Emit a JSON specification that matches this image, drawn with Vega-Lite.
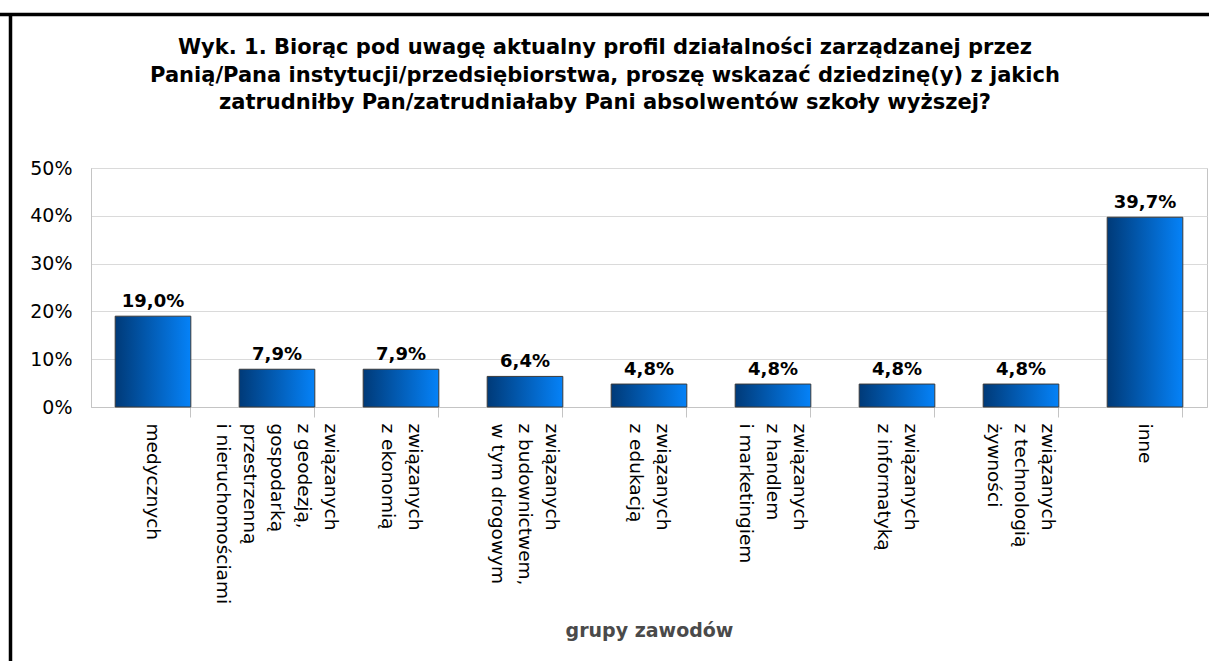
{
  "$schema": "https://vega.github.io/schema/vega-lite/v6.json",
  "width": 1116,
  "height": 239,
  "autosize": {"type": "none"},
  "padding": {"left": 91, "top": 168, "right": 2, "bottom": 254},
  "background": "white",
  "config": {
    "locale": {"number": {"decimal": ",", "thousands": " ", "grouping": [3], "currency": ["", " zł"]}},
    "view": {"stroke": "#c4c4c4", "strokeWidth": 1},
    "font": "DejaVu Sans"
  },
  "title": {
    "text": ["Wyk. 1. Biorąc pod uwagę aktualny profil działalności zarządzanej przez", "Panią/Pana instytucji/przedsiębiorstwa, proszę wskazać dziedzinę(y) z jakich", "zatrudniłby Pan/zatrudniałaby Pani absolwentów szkoły wyższej?"],
    "anchor": "middle",
    "frame": "group",
    "dx": -44,
    "offset": -102,
    "font": "DejaVu Sans",
    "fontSize": 21,
    "fontWeight": "bold",
    "color": "#000000",
    "lineHeight": 27.5
  },
  "data": {
    "values": [
      {"grupa": "medycznych", "udzial": 0.19},
      {"grupa": "związanych|z geodezją,|gospodarką|przestrzenną|i nieruchomościami", "udzial": 0.079},
      {"grupa": "związanych|z ekonomią", "udzial": 0.079},
      {"grupa": "związanych|z budownictwem,|w tym drogowym", "udzial": 0.064},
      {"grupa": "związanych|z edukacją", "udzial": 0.048},
      {"grupa": "związanych|z handlem|i marketingiem", "udzial": 0.048},
      {"grupa": "związanych|z informatyką", "udzial": 0.048},
      {"grupa": "związanych|z technologią|żywności", "udzial": 0.048},
      {"grupa": "inne", "udzial": 0.397}
    ]
  },
  "resolve": {"axis": {"x": "independent"}},
  "layer": [
    {
      "mark": {
        "type": "bar",
        "stroke": "#3a3a3a",
        "strokeWidth": 1,
        "color": {
          "gradient": "linear",
          "x1": 0, "x2": 1, "y1": 0, "y2": 0,
          "stops": [
            {"offset": 0, "color": "#003a78"},
            {"offset": 1, "color": "#0582f8"}
          ]
        }
      },
      "encoding": {
        "x": {
          "field": "grupa",
          "type": "nominal",
          "sort": null,
          "scale": {"paddingInner": 0.39, "paddingOuter": 0.195},
          "axis": {
            "orient": "bottom",
            "labels": false,
            "title": null,
            "bandPosition": 1,
            "ticks": true,
            "tickSize": 10,
            "tickColor": "#c4c4c4",
            "domainColor": "#c4c4c4"
          }
        },
        "y": {
          "field": "udzial",
          "type": "quantitative",
          "scale": {"domain": [0, 0.5]},
          "axis": {
            "title": null,
            "format": ".0%",
            "values": [0, 0.1, 0.2, 0.3, 0.4, 0.5],
            "ticks": false,
            "labelPadding": 19,
            "labelFont": "DejaVu Sans",
            "labelFontSize": 19,
            "labelColor": "#000000",
            "gridColor": "#dadada",
            "domainColor": "#c4c4c4"
          }
        }
      }
    },
    {
      "mark": {"type": "text", "baseline": "alphabetic", "dy": -9, "font": "DejaVu Sans", "fontSize": 18, "fontWeight": "bold", "color": "#000000"},
      "encoding": {
        "x": {
          "field": "grupa",
          "type": "nominal",
          "sort": null,
          "axis": {
            "orient": "bottom",
            "labelAngle": 90,
            "labelExpr": "split(datum.value, '|')",
            "labelOffset": {"expr": "(length(split(datum.value, '|')) - 1) * 13.5"},
            "labelFont": "DejaVu Sans",
            "labelFontSize": 18.5,
            "labelLineHeight": 27,
            "labelColor": "#000000",
            "labelPadding": 16,
            "ticks": false,
            "tickSize": 0,
            "domain": false,
            "labelLimit": 0,
            "title": "grupy zawodów",
            "titleFont": "DejaVu Sans",
            "titleFontSize": 19,
            "titleFontWeight": "bold",
            "titleColor": "#4a4a4a",
            "titlePadding": 18
          }
        },
        "y": {"field": "udzial", "type": "quantitative"},
        "text": {"field": "udzial", "type": "quantitative", "format": ".1%"}
      }
    },
    {
      "data": {"values": [{"edge": "top"}]},
      "mark": {"type": "rule", "color": "#000000", "strokeWidth": 3.5, "clip": false},
      "encoding": {
        "x": {"value": -91},
        "x2": {"value": 1118},
        "y": {"value": -153.5},
        "y2": {"value": -153.5}
      }
    },
    {
      "data": {"values": [{"edge": "left"}]},
      "mark": {"type": "rule", "color": "#000000", "strokeWidth": 3.5, "clip": false},
      "encoding": {
        "x": {"value": -80.5},
        "x2": {"value": -80.5},
        "y": {"value": -155},
        "y2": {"value": 493}
      }
    }
  ]
}
